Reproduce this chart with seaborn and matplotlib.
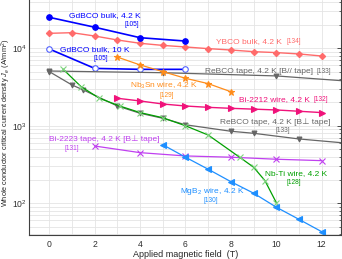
import numpy as np
import pandas as pd
import matplotlib
matplotlib.use("Agg")
import matplotlib.pyplot as plt
from matplotlib.ticker import MultipleLocator, LogLocator, NullFormatter
import seaborn as sns

# ---------------- data ----------------
gd42_x = [0, 2, 4, 6]
gd42_y = [25100, 18700, 13700, 12400]

ybco_x = [0, 1, 2, 3, 4, 5, 6, 7, 8, 9, 10, 11, 12]
ybco_y = [15600, 15900, 14400, 12800, 11600, 10900, 10400, 9900, 9500, 9050, 8800, 8450, 7950]

gd10_x = [0, 2, 4, 6]
gd10_y = [9800, 5500, 5350, 5350]

rebco_par_x = [0, 5, 10, 15]
rebco_par_y = [5090, 4840, 4400, 3440]

nb3sn_x = [3, 4, 5, 6, 7, 8]
nb3sn_y = [7700, 6100, 5000, 4100, 3500, 2750]

bi2212_x = [3, 4, 5, 6, 7, 8, 9, 10, 11, 12]
bi2212_y = [2265, 2090, 1910, 1800, 1730, 1680, 1640, 1600, 1540, 1480]

rebco_perp_x = [0, 1, 1.5, 3, 4, 5, 6, 8, 9, 11, 13]
rebco_perp_y = [5000, 3360, 2900, 1800, 1450, 1250, 1030, 850, 800, 676, 600]

bi2223_x = [2, 4, 6, 8, 10, 12]
bi2223_y = [548, 450, 408, 393, 370, 355]

nbti_x = [0.6, 1.4, 2.2, 3.1, 4.0, 5.0, 6.0, 7.0, 8.4, 9.0, 9.5, 10.0]
nbti_y = [5400, 3200, 2270, 1800, 1480, 1270, 1000, 760, 390, 292, 196, 102]

mgb2_x = [5, 6, 7, 8, 9, 10, 11, 12]
mgb2_y = [570, 393, 275, 190, 135, 89, 62, 43]

x_ticks = [0, 2, 4, 6, 8, 10, 12]
x_label = "Applied magnetic field  (T)"
y_label = "Whole conductor critical current density $J_e$ (A/mm$^2$)"

# ---------------- style ----------------
sns.set_style("white")
plt.rcParams["font.family"] = ["Liberation Sans", "DejaVu Sans"]
plt.rcParams["mathtext.fontset"] = "custom"
plt.rcParams["mathtext.rm"] = "Liberation Sans"
plt.rcParams["mathtext.it"] = "Liberation Sans:italic"

fig = plt.figure(figsize=(3.42, 2.59), dpi=100)
ax = fig.add_axes([0.0857, 0.0915, 0.9113, 0.9085])

BLUE = "#0000FF"
SALMON = "#FF6B6B"
GRAY = "#666666"
ORANGE = "#FF8C1A"
PINK = "#F0127A"
VIOLET = "#C040F0"
GREEN = "#00A000"
LGREEN = "#7FD37F"
DBLUE = "#1E8FFF"

def draw(x, y, color, marker, ms, lw=0.9, mfc=None, mec=None, mew=0.8):
    df = pd.DataFrame({"B": x, "J": y})
    sns.lineplot(data=df, x="B", y="J", ax=ax, color=color, marker=marker,
                 markersize=ms, linewidth=lw, estimator=None, sort=False,
                 markerfacecolor=mfc if mfc else color,
                 markeredgecolor=mec if mec else color, markeredgewidth=mew)

draw(ybco_x, ybco_y, SALMON, "D", 3.2, lw=1.0)
draw(gd42_x, gd42_y, BLUE, "o", 4.0, lw=1.2)
draw(gd10_x, gd10_y, BLUE, "o", 4.0, lw=1.2, mfc="white", mec="#5060FF")
draw(rebco_par_x, rebco_par_y, GRAY, "v", 3.5, lw=0.9)
draw(nb3sn_x, nb3sn_y, ORANGE, "*", 4.5, lw=0.9)
draw(bi2212_x, bi2212_y, PINK, ">", 4.0, lw=1.0)
draw(rebco_perp_x, rebco_perp_y, GRAY, "v", 3.5, lw=0.9)
draw(bi2223_x, bi2223_y, VIOLET, "x", 4.0, lw=0.9)
draw(nbti_x, nbti_y, GREEN, "x", 4.0, lw=0.9, mec=LGREEN)
draw(mgb2_x, mgb2_y, DBLUE, "<", 4.0, lw=0.9)

ax.set_yscale("log")
ax.set_xlim(-0.88, 12.85)
ax.set_ylim(38.6, 42000)
ax.set_xticks(x_ticks)
ax.xaxis.set_minor_locator(MultipleLocator(1))
ax.yaxis.set_major_locator(LogLocator(base=10, numticks=10))
ax.yaxis.set_minor_locator(LogLocator(base=10, subs=np.arange(2, 10), numticks=20))
ax.yaxis.set_minor_formatter(NullFormatter())

ax.grid(True, which="both", color="#E4E4E4", linewidth=0.6)
ax.set_axisbelow(True)
for s in ["left", "bottom", "right"]:
    ax.spines[s].set_color("#404040")
    ax.spines[s].set_linewidth(0.8)
ax.spines["top"].set_visible(False)
ax.tick_params(which="both", direction="in", right=True, top=False, labelsize=6.2, colors="#303030")
ax.tick_params(which="major", length=3, width=0.6)
ax.tick_params(which="minor", length=1.6, width=0.5)
ax.tick_params(axis="y", pad=1.5)

ax.set_xlabel(x_label, fontsize=6.5, labelpad=0.5)
ax.set_ylabel(y_label, fontsize=5.3)
ax.yaxis.set_label_coords(-0.052, 0.48)

FS = 6.0
RS = 4.7
def lab(x, y, s, c, ha="left", fs=FS):
    ax.text(x, y, s, color=c, fontsize=fs, ha=ha, va="center")

lab(0.87, 26100, "GdBCO bulk, 4.2 K", BLUE)
lab(3.62, 20000, "[105]", BLUE, ha="center", fs=RS)
lab(7.34, 12300, "YBCO bulk, 4.2 K", SALMON)
lab(10.43, 12300, "[134]", SALMON, fs=RS)
lab(0.47, 9700, "GdBCO bulk, 10 K", BLUE)
lab(2.28, 7350, "[105]", BLUE, ha="center", fs=RS)
lab(6.86, 5090, "ReBCO tape, 4.2 K [B// tape]", GRAY)
lab(11.79, 5090, "[133]", GRAY, fs=RS)
lab(3.55, 3265, "Nb$_3$Sn wire, 4.2 K", ORANGE)
lab(5.18, 2427, "[129]", ORANGE, ha="center", fs=RS)
lab(8.36, 2153, "Bi-2212 wire, 4.2 K", PINK)
lab(11.62, 2153, "[132]", PINK, fs=RS)
lab(7.52, 1119, "ReBCO tape, 4.2 K [B\u22a5 tape]", GRAY)
lab(10.29, 857, "[133]", GRAY, ha="center", fs=RS)
lab(-0.01, 670, "Bi-2223 tape, 4.2 K [B\u22a5 tape]", VIOLET)
lab(1.0, 502, "[131]", VIOLET, ha="center", fs=RS)
lab(9.5, 244, "Nb-Ti wire, 4.2 K", GREEN)
lab(10.78, 183, "[128]", GREEN, ha="center", fs=RS)
lab(5.76, 141, "MgB$_2$ wire, 4.2 K", DBLUE)
lab(7.12, 107, "[130]", DBLUE, ha="center", fs=RS)

fig.savefig("out.png", dpi=100)
